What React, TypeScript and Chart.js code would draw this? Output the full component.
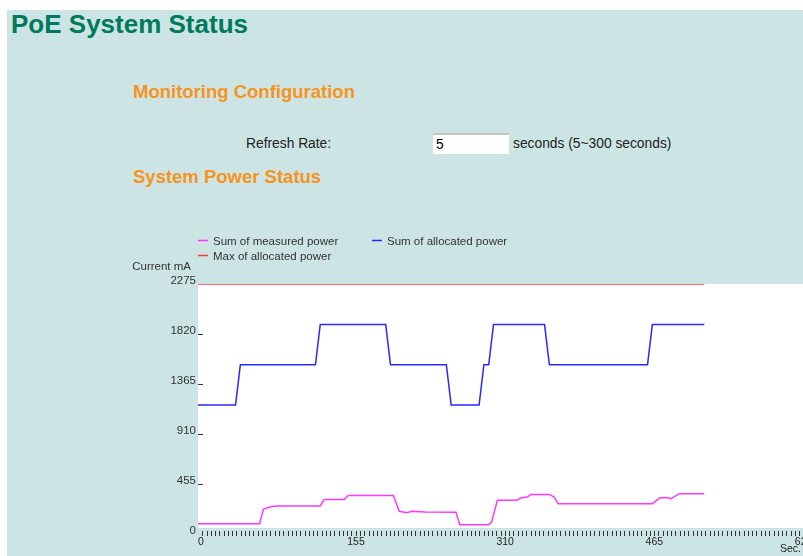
import React, { useEffect, useRef } from "react";
import { Chart, registerables } from "chart.js";

Chart.register(...registerables);

const FONT = '"Liberation Sans", Arial, Helvetica, sans-serif';

// ---- data ----
const yTickValues = [0, 455, 910, 1365, 1820, 2275];
const xLabelValues = [0, 155, 310, 465, 620];
const xMinorPerLabel = 35;

const seriesNames = ["Sum of measured power", "Sum of allocated power", "Max of allocated power"];
const seriesColors = ["#ff38ff", "#2828ff", "#ff3a3a"];

const measuredTimes = [0, 64, 68, 77, 82, 127, 131, 152, 156, 203, 209, 217, 222, 236, 268, 272, 302, 305, 311, 331, 336, 342, 346, 365, 370, 374, 472, 480, 489, 491, 500, 526];
const measuredValues = [94, 94, 227, 251, 255, 255, 315, 315, 351, 351, 206, 194, 206, 200, 197, 85, 85, 109, 306, 306, 330, 337, 360, 360, 337, 276, 276, 330, 330, 319, 367, 367];

const allocatedTimes = [0, 39, 44, 122, 127, 195, 200, 258, 263, 292, 297, 302, 307, 360, 365, 467, 472, 526];
const allocatedValues = [1174, 1174, 1540, 1540, 1907, 1907, 1540, 1540, 1174, 1174, 1540, 1540, 1907, 1907, 1540, 1540, 1907, 1907];

const maxTimes = [0, 526];
const maxValues = [2275, 2275];

const yAxisTitle = "Current mA";
const xAxisTitle = "Sec.";

const toPoints = (t: number[], v: number[]) => t.map((x, i) => ({ x, y: v[i] }));

const decorPlugin = {
  id: "decor",
  beforeDraw(chart: any) {
    const { ctx, chartArea: a } = chart;
    ctx.save();
    ctx.fillStyle = "#ffffff";
    ctx.fillRect(a.left, a.top, a.right - a.left, a.bottom - a.top - 6);
    ctx.restore();
  },
  afterDraw(chart: any) {
    const { ctx, chartArea: a } = chart;
    const ys = chart.scales.y;
    const xs = chart.scales.x;
    ctx.save();
    ctx.strokeStyle = "#333";
    ctx.lineWidth = 1;
    // small dashes for y ticks
    yTickValues.slice(1, -1).forEach((v) => {
      const py = Math.round(ys.getPixelForValue(v)) + 0.5;
      ctx.beginPath();
      ctx.moveTo(a.left, py);
      ctx.lineTo(a.left + 5, py);
      ctx.stroke();
    });
    // x minor tick marks
    xs.ticks.forEach((t: any, i: number) => {
      if (i === 0) return;
      const px = Math.round(xs.getPixelForValue(t.value)) + 0.5;
      ctx.beginPath();
      ctx.moveTo(px, a.bottom - 3);
      ctx.lineTo(px, a.bottom + 2);
      ctx.stroke();
    });
    // legend
    ctx.font = `11.5px ${FONT}`;
    ctx.fillStyle = "#333";
    ctx.textBaseline = "middle";
    ctx.textAlign = "left";
    const legendPos = [
      [78, 16],
      [252, 16],
      [78, 31],
    ];
    chart.data.datasets.forEach((ds: any, i: number) => {
      const [lx, ly] = legendPos[i];
      ctx.strokeStyle = ds.borderColor;
      ctx.lineWidth = 1.5;
      ctx.beginPath();
      ctx.moveTo(lx, ly - 0.5);
      ctx.lineTo(lx + 10, ly - 0.5);
      ctx.stroke();
      ctx.fillText(ds.label, lx + 15, ly + 1);
    });
    // y axis title
    ctx.textAlign = "right";
    ctx.textBaseline = "alphabetic";
    ctx.fillText(yAxisTitle, 71, 44.5);
    // x axis title
    ctx.font = `10.5px ${FONT}`;
    ctx.fillStyle = "#222";
    ctx.fillText(xAxisTitle, a.right - 2, a.bottom + 18);
    ctx.restore();
  },
};

function PowerChart() {
  const ref = useRef<HTMLCanvasElement | null>(null);
  useEffect(() => {
    if (!ref.current) return;
    const chart = new Chart(ref.current, {
      type: "line",
      data: {
        datasets: [
          { label: seriesNames[0], data: toPoints(measuredTimes, measuredValues), borderColor: seriesColors[0], backgroundColor: seriesColors[0] },
          { label: seriesNames[1], data: toPoints(allocatedTimes, allocatedValues), borderColor: seriesColors[1], backgroundColor: seriesColors[1] },
          { label: seriesNames[2], data: toPoints(maxTimes, maxValues), borderColor: seriesColors[2], backgroundColor: seriesColors[2] },
        ],
      },
      options: {
        animation: false,
        responsive: false,
        devicePixelRatio: 1,
        layout: { padding: { top: 59, left: 0, right: 0, bottom: 0 } },
        elements: {
          point: { radius: 0, hoverRadius: 0 },
          line: { borderWidth: 1.5, tension: 0, fill: false },
        },
        plugins: {
          legend: { display: false },
          tooltip: { enabled: false },
          title: { display: false },
        },
        scales: {
          x: {
            type: "linear",
            min: 0,
            max: 628.5,
            grid: { display: false, drawTicks: false },
            border: { display: false },
            afterBuildTicks: (scale: any) => {
              const step = xLabelValues[1] / xMinorPerLabel;
              const ticks: any[] = [];
              for (let i = 0; i * step <= scale.max + 1e-6; i++) ticks.push({ value: i * step });
              scale.ticks = ticks;
            },
            afterFit: (scale: any) => {
              scale.height = 22;
              scale.paddingLeft = 0;
              scale.paddingRight = 0;
            },
            ticks: {
              autoSkip: false,
              maxRotation: 0,
              minRotation: 0,
              align: "start",
              padding: 2,
              color: "#222",
              font: { family: FONT, size: 10.5 },
              callback: (value: any, index: number) =>
                index % xMinorPerLabel === 0 ? String(xLabelValues[index / xMinorPerLabel] ?? "") : "",
            },
          },
          y: {
            type: "linear",
            min: 0,
            max: 2275,
            grid: { display: false, drawTicks: false },
            border: { display: false },
            afterBuildTicks: (scale: any) => {
              scale.ticks = yTickValues.map((v) => ({ value: v }));
            },
            afterFit: (scale: any) => {
              scale.width = 78;
              scale.paddingTop = 0;
              scale.paddingBottom = 0;
            },
            ticks: {
              padding: 2,
              labelOffset: -3,
              color: "#333",
              font: { family: FONT, size: 11.5 },
              callback: (value: any) => String(value),
            },
          },
        },
      },
      plugins: [decorPlugin],
    });
    return () => chart.destroy();
  }, []);
  return (
    <canvas
      ref={ref}
      width={683}
      height={331}
      style={{ position: "fixed", left: 120, top: 225, width: 683, height: 331, display: "block" }}
    />
  );
}

export default function App() {
  const orange = "#f7941d";
  return (
    <div style={{ position: "fixed", inset: 0, background: "#ffffff", fontFamily: FONT, overflow: "hidden" }}>
      <div style={{ position: "fixed", left: 7, top: 10, right: 0, bottom: 0, background: "#cce5e4" }} />
      <div style={{ position: "fixed", left: 11, top: 11.3, fontSize: 26, lineHeight: "26px", fontWeight: "bold", color: "#007a5c", whiteSpace: "nowrap" }}>
        PoE System Status
      </div>
      <div style={{ position: "fixed", left: 133, top: 82.5, fontSize: 18.5, lineHeight: "18.5px", fontWeight: "bold", color: orange, whiteSpace: "nowrap" }}>
        Monitoring Configuration
      </div>
      <div style={{ position: "fixed", left: 246, top: 136.5, fontSize: 13.8, lineHeight: "13.8px", color: "#222", whiteSpace: "nowrap" }}>
        Refresh Rate:
      </div>
      <input
        readOnly
        value="5"
        style={{
          position: "fixed",
          left: 433,
          top: 133,
          width: 76,
          height: 21,
          boxSizing: "border-box",
          border: "none",
          borderTop: "2px solid #c4c4c4",
          background: "#ffffff",
          padding: "0 0 0 3px",
          margin: 0,
          fontFamily: FONT,
          fontSize: 13.8,
          color: "#000",
          outline: "none",
        }}
      />
      <div style={{ position: "fixed", left: 513, top: 136.5, fontSize: 13.8, lineHeight: "13.8px", color: "#222", whiteSpace: "nowrap" }}>
        seconds (5~300 seconds)
      </div>
      <div style={{ position: "fixed", left: 133, top: 168, fontSize: 18.5, lineHeight: "18.5px", fontWeight: "bold", color: orange, whiteSpace: "nowrap" }}>
        System Power Status
      </div>
      <PowerChart />
    </div>
  );
}
